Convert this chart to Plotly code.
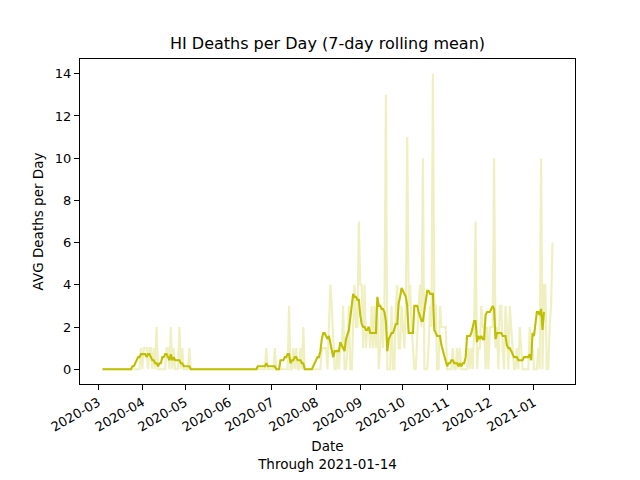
import pandas as pd
import plotly.graph_objects as go

# daily deaths reported in Hawaii, 2020-03-04 .. 2021-01-14
start_date = "2020-03-04"
deaths_mar = [0] * 27 + [1]
deaths_apr = [0, 1, 1, 1, 0, 1, 1, 0, 1, 0,
              2, 0, 0, 0, 0, 0, 0, 1, 1, 0,
              2, 0, 1, 0, 0, 0, 2, 0, 1, 0]
deaths_may = [0, 0, 0, 1] + [0] * 27
deaths_jun = [0] * 26 + [1, 0, 0, 0]
deaths_jul = [0, 0, 1, 0, 0, 0, 0, 0, 0, 0,
              0, 0, 3, 0, 0, 1, 0, 1, 0, 0,
              1, 0, 2, 0, 0, 0, 0, 0, 0, 0, 0]
deaths_aug = [0, 0, 0, 0, 1, 1, 1, 1, 0, 2,
              4, 3, 1, 0, 0, 1, 0, 1, 1, 3,
              0, 0, 1, 3, 0, 0, 2, 4, 2, 2, 7]
deaths_sep = [4, 4, 1, 4, 1, 2, 2, 1, 3, 1,
              3, 1, 3, 0, 1, 3, 1, 3, 13, 0,
              0, 0, 3, 0, 0, 3, 4, 1, 1, 3]
deaths_oct = [2, 1, 3, 11, 3, 4, 2, 1, 0, 0,
              2, 3, 4, 2, 10, 0, 0, 0, 1, 3,
              2, 14, 3, 3, 0, 0, 3, 2, 2, 2, 2]
deaths_nov = [0, 0, 0, 0, 1, 0, 0, 1, 0, 1,
              0, 0, 0, 0, 0, 1, 0, 1, 0, 2,
              7, 0, 1, 1, 3, 2, 2, 0, 2, 0]
deaths_dec = [2, 2, 2, 10, 1, 2, 0, 3, 3, 1,
              0, 3, 2, 0, 3, 2, 1, 0, 0, 1,
              0, 2, 1, 0, 0, 0, 0, 0, 2, 1, 1]
deaths_jan = [0, 0, 0, 1, 0, 10, 0, 4, 4, 0, 0, 2, 3, 6]

daily = (deaths_mar + deaths_apr + deaths_may + deaths_jun + deaths_jul + deaths_aug
         + deaths_sep + deaths_oct + deaths_nov + deaths_dec + deaths_jan)
dates = pd.date_range(start_date, periods=len(daily), freq="D")
s = pd.Series(daily, index=dates, dtype=float)

# data came newest-first, so the rolling window looks forward in time
avg = s[::-1].rolling(7).mean()[::-1].dropna()

span = dates[-1] - dates[0]
x_range = [dates[0] - span * 0.05, dates[-1] + span * 0.05]

col = "#bfbf00"
fig = go.Figure()
fig.add_trace(go.Scatter(x=dates, y=s, mode="lines",
                         line=dict(color="rgba(191,191,0,0.25)", width=2.1),
                         showlegend=False))
fig.add_trace(go.Scatter(x=avg.index, y=avg.values, mode="lines",
                         line=dict(color=col, width=2.1), showlegend=False))

axis_style = dict(showline=True, linecolor="black", linewidth=1.1, mirror=True,
                  ticks="outside", ticklen=5, tickwidth=1.1, tickcolor="black",
                  showgrid=False, zeroline=False, automargin=False,
                  tickfont=dict(size=13))
# page body adds 8px around the figure, so the figure is 8px smaller
fig.update_layout(
    width=632, height=472,
    margin=dict(l=72, r=65, t=51, b=96),
    paper_bgcolor="white", plot_bgcolor="white",
    font=dict(family="DejaVu Sans", size=13, color="black"),
    title=dict(text="HI Deaths per Day (7-day rolling mean)", x=0.5, xanchor="center",
               xref="paper", yref="container", y=1 - 35 / 472, yanchor="middle",
               font=dict(size=16)),
    xaxis=dict(range=x_range, tickformat="%Y-%m", dtick="M1", tick0="2020-03-01",
               tickangle=-30,
               title=dict(text="Date<br>Through 2021-01-14", standoff=8,
                          font=dict(size=13.5)),
               **axis_style),
    yaxis=dict(range=[-0.7, 14.7], tickvals=list(range(0, 15, 2)),
               title=dict(text="AVG Deaths per Day", standoff=8,
                          font=dict(size=13.5)),
               **axis_style),
)
fig.write_html("out.html")
